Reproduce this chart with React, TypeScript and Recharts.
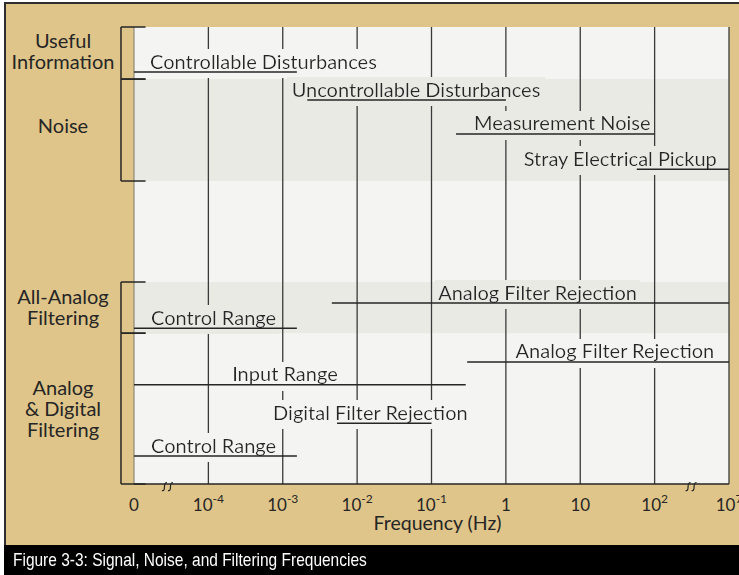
import React from 'react';
import {
  ComposedChart,
  XAxis,
  YAxis,
  Scatter,
  ReferenceArea,
  ReferenceLine,
  ReferenceDot,
} from 'recharts';

const FONT = 'Lato, "Open Sans", sans-serif';
const INK = '#262626';
const PLOT_BG = '#F4F4F2';
const BAND_BG = '#EAEAE5';
const TAN = '#DFC589';

// x axis: one slot per decade, equally spaced
const tickPositions = [0, 1, 2, 3, 4, 5, 6, 7, 8];
const tickBases = ['0', '10', '10', '10', '10', '1', '10', '10', '10'];
const tickExps = ['', '-4', '-3', '-2', '-1', '', '', '2', '7'];
const axisBreaks = [0.45, 7.49];

// groups down the left side (y = % of plot height, from the top)
const groupNames = [
  ['Useful', 'Information'],
  ['Noise'],
  ['All-Analog', 'Filtering'],
  ['Analog', '& Digital', 'Filtering'],
];
const groupTop = [0, 11.4, 55.8, 67.0];
const groupBottom = [11.4, 33.7, 67.0, 100];
const groupLabelY = [5.3, 21.7, 61.4, 83.6];
const groupShaded = [false, true, true, false];

// frequency ranges
const rangeNames = [
  'Controllable Disturbances',
  'Uncontrollable Disturbances',
  'Measurement Noise',
  'Stray Electrical Pickup',
  'Analog Filter Rejection',
  'Control Range',
  'Analog Filter Rejection',
  'Input Range',
  'Digital Filter Rejection',
  'Control Range',
];
const rangeRow = [9.85, 16.0, 23.4, 31.1, 60.4, 65.9, 73.3, 78.3, 86.7, 93.9];
const rangeFrom = [0, 2.33, 4.33, 6.76, 2.66, 0, 4.48, 0, 2.73, 0];
const rangeTo = [2.19, 5.0, 7.0, 8, 8, 2.19, 8, 4.46, 4.0, 2.19];
const rangeTextAt = [0.215, 2.12, 4.57, 5.24, 4.09, 0.23, 5.13, 1.32, 1.87, 0.23];

const BRACKET_X = -0.175;
const BRACKET_TICK = 0.155;
const TOP_Z = 2500;

const labelData = rangeNames.map((name, i) => ({ name, i, x: rangeTextAt[i], y: rangeRow[i] }));

const inBand = (v: number) =>
  groupShaded.some((s, g) => s && v > groupTop[g] && v < groupBottom[g]);

const FreqTick = (props: any) => {
  const { x, y, payload } = props;
  const i = tickPositions.indexOf(payload.value);
  const exp = tickExps[i];
  return (
    <text x={x} y={y + 27} textAnchor="middle" fontFamily={FONT} fontSize={17} fill={INK}>
      <tspan>{tickBases[i]}</tspan>
      {exp ? (
        <tspan dy={-8} fontSize={12}>
          {exp}
        </tspan>
      ) : null}
    </text>
  );
};

const GroupTick = (props: any) => {
  const { x, y, payload } = props;
  const lines = groupNames[groupLabelY.indexOf(payload.value)] || [];
  const lh = 21;
  return (
    <g>
      {lines.map((ln, k) => (
        <text
          key={k}
          x={x - 71}
          y={y + 7 + (k - (lines.length - 1) / 2) * lh}
          textAnchor="middle"
          fontFamily={FONT}
          fontSize={20}
          fill={INK}
        >
          {ln}
        </text>
      ))}
    </g>
  );
};

const RangeText = (props: any) => {
  const { cx, cy, payload } = props;
  const i = payload.i;
  const id = `knock${i}`;
  return (
    <g>
      <defs>
        <filter id={id} x="-0.015" y="0.04" width="1.03" height="1.16">
          <feFlood floodColor={inBand(rangeRow[i]) ? BAND_BG : PLOT_BG} />
          <feComposite in="SourceGraphic" operator="over" />
        </filter>
      </defs>
      <text x={cx} y={cy - 3.5} filter={`url(#${id})`} fontFamily={FONT} fontSize={20} fill={INK}>
        {payload.name}
      </text>
    </g>
  );
};

const BreakMark = (props: any) => {
  const { cx, cy } = props;
  return (
    <g fill="none" stroke={INK} strokeWidth={1.2}>
      {[-3, 3].map((d) => (
        <path key={d} d={`M${cx + d - 2.5} ${cy + 6.5} q2.5 1 2.5 -3.5 q0 -4.5 2.5 -4.5`} />
      ))}
    </g>
  );
};

const AxisTitle = (props: any) => {
  const { viewBox } = props;
  return (
    <text
      x={viewBox.x + viewBox.width / 2 + 6}
      y={viewBox.y + viewBox.height - 15}
      textAnchor="middle"
      fontFamily={FONT}
      fontSize={19.5}
      fill={INK}
    >
      Frequency (Hz)
    </text>
  );
};

export default function App() {
  return (
    <div style={{ position: 'absolute', left: 0, top: 0, width: 739, height: 575, background: '#fff', overflow: 'hidden' }}>
      <div
        style={{
          position: 'absolute',
          left: 4,
          top: 2,
          right: 0,
          bottom: 0,
          background: TAN,
          borderTop: '2px solid #2e2e2e',
          borderLeft: '2px solid #2e2e2e',
        }}
      />
      <div
        style={{
          position: 'absolute',
          left: 4,
          top: 545,
          right: 0,
          height: 30,
          background: '#000',
          color: '#fff',
          fontFamily: '"Liberation Sans", Arial, sans-serif',
          fontSize: 19,
          lineHeight: '30px',
          whiteSpace: 'nowrap',
        }}
      >
        <span style={{ display: 'inline-block', marginLeft: 9, transform: 'scaleX(0.815)', transformOrigin: 'left center' }}>
          Figure 3-3: Signal, Noise, and Filtering Frequencies
        </span>
      </div>
      <div style={{ position: 'absolute', left: 0, top: 0 }}>
        <ComposedChart width={739} height={545} data={labelData} margin={{ top: 27, right: 10, bottom: 0, left: 0 }}>
          <XAxis
            type="number"
            dataKey="x"
            domain={[0, 8]}
            ticks={tickPositions}
            interval={0}
            height={61}
            tickLine={false}
            tickSize={0}
            tickMargin={0}
            tick={<FreqTick />}
            axisLine={{ stroke: INK, strokeWidth: 1.5 }}
            label={<AxisTitle />}
          />
          <YAxis
            type="number"
            dataKey="y"
            domain={[0, 100]}
            reversed
            width={134}
            ticks={groupLabelY}
            interval={0}
            axisLine={false}
            tickLine={false}
            tickSize={0}
            tickMargin={0}
            tick={<GroupTick />}
          />
          <ReferenceArea x1={0} x2={8} y1={0} y2={100} fill={PLOT_BG} fillOpacity={1} stroke="none" />
          {groupNames.map((_, g) =>
            groupShaded[g] ? (
              <ReferenceArea
                key={`band${g}`}
                x1={0}
                x2={8}
                y1={groupTop[g]}
                y2={groupBottom[g]}
                fill={BAND_BG}
                fillOpacity={1}
                stroke="none"
              />
            ) : null
          )}
          <ReferenceLine x={0} stroke="#7d776a" strokeWidth={1} />
          {tickPositions.slice(1).map((p) => (
            <ReferenceLine key={`grid${p}`} x={p} stroke="#3a3a3a" strokeWidth={1.3} />
          ))}
          <Scatter dataKey="y" isAnimationActive={false} shape={(p: any) => <RangeText {...p} />} />
          {rangeNames.map((_, i) => (
            <ReferenceLine
              key={`rng${i}`}
              zIndex={TOP_Z}
              segment={[
                { x: rangeFrom[i], y: rangeRow[i] },
                { x: rangeTo[i], y: rangeRow[i] },
              ]}
              stroke={INK}
              strokeWidth={1.5}
            />
          ))}
          {groupNames.map((_, g) => (
            <ReferenceLine
              key={`brk${g}`}
              zIndex={TOP_Z}
              ifOverflow="visible"
              segment={[
                { x: BRACKET_X, y: groupTop[g] },
                { x: BRACKET_X, y: groupBottom[g] },
              ]}
              stroke={INK}
              strokeWidth={1.5}
            />
          ))}
          {groupNames.flatMap((_, g) =>
            [groupTop[g], groupBottom[g]].map((v, k) => (
              <ReferenceLine
                key={`tick${g}-${k}`}
                zIndex={TOP_Z}
                ifOverflow="visible"
                segment={[
                  { x: BRACKET_X, y: v },
                  { x: BRACKET_TICK, y: v },
                ]}
                stroke={INK}
                strokeWidth={1.5}
              />
            ))
          )}
          {axisBreaks.map((b) => (
            <ReferenceDot
              key={`br${b}`}
              zIndex={TOP_Z}
              x={b}
              y={100}
              r={1}
              ifOverflow="visible"
              shape={(p: any) => <BreakMark {...p} />}
            />
          ))}
        </ComposedChart>
      </div>
    </div>
  );
}
